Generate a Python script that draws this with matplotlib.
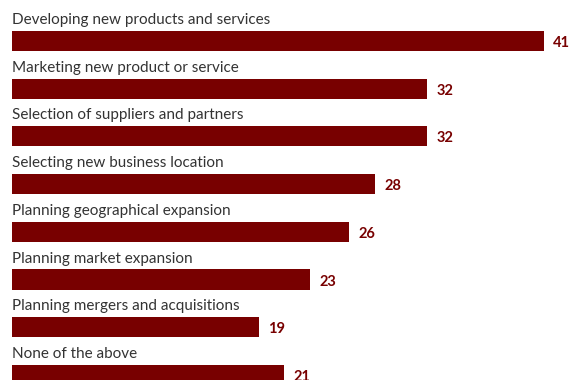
import matplotlib.pyplot as plt

# survey answers, top to bottom
labels = [
    "Developing new products and services",
    "Marketing new product or service",
    "Selection of suppliers and partners",
    "Selecting new business location",
    "Planning geographical expansion",
    "Planning market expansion",
    "Planning mergers and acquisitions",
    "None of the above",
]
values = [41, 32, 32, 28, 26, 23, 19, 21]

bar_color = "#780000"
text_color = "#333333"

fig = plt.figure(figsize=(5.69, 3.80), dpi=100)
ax = fig.add_axes([0, 0, 1, 1])

bar_h = 0.42
ypos = list(range(len(values)))
ax.barh(ypos, values, height=bar_h, color=bar_color, left=0)

for i, (lab, val) in enumerate(zip(labels, values)):
    # category name sits just above its bar
    ax.annotate(lab, xy=(0, i - bar_h / 2), xytext=(0, 5),
                textcoords="offset points", va="baseline", ha="left",
                fontsize=11, color=text_color, family="Lato")
    # value to the right of the bar
    ax.annotate(str(val), xy=(val, i), xytext=(6.5, -1.5),
                textcoords="offset points", va="center", ha="left",
                fontsize=10.5, fontweight="bold", color=bar_color, family="Lato")

ax.set_xlim(-0.925, 42.93)
ax.set_ylim(7.107, -0.86)
ax.axis("off")

fig.savefig("out.png", dpi=100)
